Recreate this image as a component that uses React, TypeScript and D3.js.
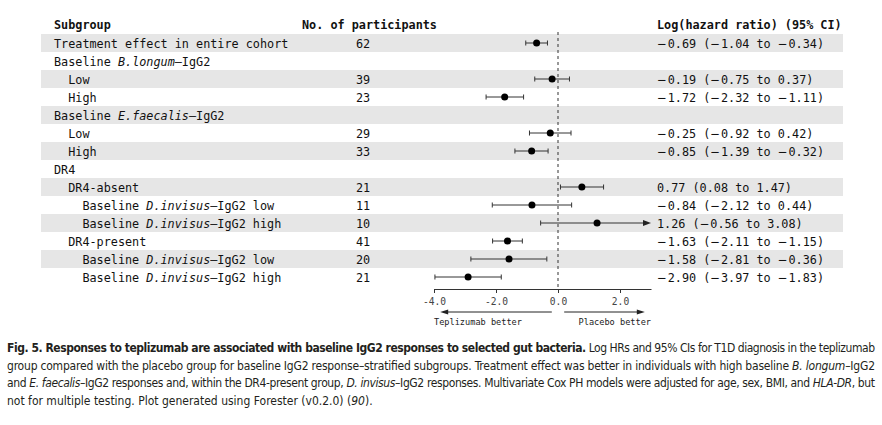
import { useRef, useEffect } from "react";
import * as d3 from "d3";

// subgroup labels; text between * is italic
const labels = [
  "Treatment effect in entire cohort",
  "Baseline *B.longum*–IgG2",
  "Low",
  "High",
  "Baseline *E.faecalis*–IgG2",
  "Low",
  "High",
  "DR4",
  "DR4-absent",
  "Baseline *D.invisus*–IgG2 low",
  "Baseline *D.invisus*–IgG2 high",
  "DR4-present",
  "Baseline *D.invisus*–IgG2 low",
  "Baseline *D.invisus*–IgG2 high",
];
const indent = [0, 0, 1, 1, 0, 1, 1, 0, 1, 2, 2, 1, 2, 2];
const participants = ["62", "", "39", "23", "", "29", "33", "", "21", "11", "10", "41", "20", "21"];
const estimate = [-0.69, null, -0.19, -1.72, null, -0.25, -0.85, null, 0.77, -0.84, 1.26, -1.63, -1.58, -2.9];
const lower = [-1.04, null, -0.75, -2.32, null, -0.92, -1.39, null, 0.08, -2.12, -0.56, -2.11, -2.81, -3.97];
const upper = [-0.34, null, 0.37, -1.11, null, 0.42, -0.32, null, 1.47, 0.44, 3.08, -1.15, -0.36, -1.83];
const xTicks = [-4, -2, 0, 2];
const xDomain = [-4, 3];

// caption lines: [text, style] pieces
const caption: [string, string][][] = [
  [
    ["Fig. 5. Responses to teplizumab are associated with baseline IgG2 responses to selected gut bacteria.", "b"],
    [" Log HRs and 95% CIs for T1D diagnosis in the teplizumab", ""],
  ],
  [
    ["group compared with the placebo group for baseline IgG2 response–stratified subgroups. Treatment effect was better in individuals with high baseline ", ""],
    ["B. longum", "i"],
    ["–IgG2", ""],
  ],
  [
    ["and ", ""],
    ["E. faecalis", "i"],
    ["–IgG2 responses and, within the DR4-present group, ", ""],
    ["D. invisus", "i"],
    ["–IgG2 responses. Multivariate Cox PH models were adjusted for age, sex, BMI, and ", ""],
    ["HLA-DR", "i"],
    [", but", ""],
  ],
  [
    ["not for multiple testing. Plot generated using Forester (v0.2.0) (", ""],
    ["90", "i"],
    [").", ""],
  ],
];

const MONO = "'DejaVu Sans Mono', monospace";
const CAP = "'Liberation Sans Narrow', 'DejaVu Sans Condensed', sans-serif";

const fmt = (v: number) => (v < 0 ? "−" : "") + Math.abs(v).toFixed(2);

// minus signs in the CI column come from a wider fallback glyph
const withMinus = (s: string) =>
  s.split("−").map((part, j) => (
    <tspan key={j}>
      {j > 0 && (
        <tspan fontFamily="'DejaVu Sans', sans-serif" letterSpacing={0.8}>
          −
        </tspan>
      )}
      {part}
    </tspan>
  ));

const App = () => {
  const axisRef = useRef(null);

  const x = d3.scaleLinear().domain(xDomain).range([434, 651]);
  const y = d3
    .scaleBand()
    .domain(labels.map((_, i) => String(i)))
    .range([34, 34 + labels.length * 18]);
  const axisY = 289;

  useEffect(() => {
    const g = d3.select(axisRef.current);
    g.selectAll("*").remove();
    g.call(
      d3
        .axisBottom(x)
        .tickValues(xTicks)
        .tickSize(4)
        .tickSizeOuter(0)
        // @ts-ignore
        .tickFormat((d) => d.toFixed(1))
    );
    g.select(".domain").attr("stroke", "#333");
    g.selectAll(".tick line").attr("stroke", "#333");
    g.selectAll(".tick text")
      .attr("font-family", MONO)
      .attr("font-size", 9.6)
      .attr("fill", "#444")
      .attr("dy", "0.9em");
  }, []);

  const x0 = x(0);
  const bw = y.bandwidth();

  return (
    <svg width={882} height={425} style={{ position: "absolute", left: 0, top: 0 }}>
      {/* row stripes */}
      {labels.map((_, i) =>
        i % 2 === 0 ? (
          <rect key={i} x={41} y={y(String(i))} width={802} height={bw} fill="#e6e6e6" />
        ) : null
      )}

      {/* headers */}
      <g fontFamily={MONO} fontSize={11.8} fontWeight="bold" fill="#111">
        <text x={54} y={29}>Subgroup</text>
        <text x={302} y={29}>No. of participants</text>
        <text x={657} y={29}>Log(hazard ratio) (95% CI)</text>
      </g>

      {/* table text */}
      <g fontFamily={MONO} fontSize={11.8} fill="#111">
        {labels.map((lab, i) => {
          const cy = y(String(i)) + bw / 2 + 4.5;
          return (
            <g key={i}>
              <text x={54 + indent[i] * 14.2} y={cy}>
                {lab.split("*").map((s, j) => (
                  <tspan key={j} fontStyle={j % 2 ? "italic" : "normal"}>{s}</tspan>
                ))}
              </text>
              <text x={363} y={cy} textAnchor="middle">{participants[i]}</text>
              {estimate[i] !== null && (
                <text x={657} y={cy}>
                  {withMinus(`${fmt(estimate[i])} (${fmt(lower[i])} to ${fmt(upper[i])})`)}
                </text>
              )}
            </g>
          );
        })}
      </g>

      {/* reference line */}
      <line x1={x0} x2={x0} y1={32} y2={axisY} stroke="#333" strokeWidth={1} strokeDasharray="3,3" />

      {/* estimates and CIs */}
      {estimate.map((e, i) => {
        if (e === null) return null;
        const cy = y(String(i)) + bw / 2;
        const lo = Math.max(lower[i], xDomain[0]);
        const hiClipped = upper[i] > xDomain[1];
        const hi = Math.min(upper[i], xDomain[1]);
        return (
          <g key={i} stroke="#333" strokeWidth={1}>
            <line x1={x(lo)} x2={hiClipped ? x(hi) - 6 : x(hi)} y1={cy} y2={cy} />
            <line x1={x(lo)} x2={x(lo)} y1={cy - 2.5} y2={cy + 2.5} />
            {hiClipped ? (
              <path
                d={`M${x(hi)},${cy}L${x(hi) - 8},${cy - 3}L${x(hi) - 8},${cy + 3}Z`}
                fill="#222"
                stroke="none"
              />
            ) : (
              <line x1={x(hi)} x2={x(hi)} y1={cy - 2.5} y2={cy + 2.5} />
            )}
            <circle cx={x(e)} cy={cy} r={3.5} fill="#000" stroke="none" />
          </g>
        );
      })}

      {/* x axis */}
      <g ref={axisRef} transform={`translate(0,${axisY})`} />

      {/* direction arrows */}
      <g stroke="#222" strokeWidth={1}>
        <line x1={x(-0.2)} x2={x(-3.8) + 6} y1={312} y2={312} />
        <path d={`M${x(-3.8)},312L${x(-3.8) + 8},309.5L${x(-3.8) + 8},314.5Z`} fill="#222" stroke="none" />
        <line x1={x(0.2)} x2={x(2.8) - 6} y1={312} y2={312} />
        <path d={`M${x(2.8)},312L${x(2.8) - 8},309.5L${x(2.8) - 8},314.5Z`} fill="#222" stroke="none" />
      </g>
      <g fontFamily={MONO} fontSize={8.6} fill="#222">
        <text x={x(-4)} y={324.5}>Teplizumab better</text>
        <text x={x(3)} y={324.5} textAnchor="end">Placebo better</text>
      </g>

      {/* caption */}
      <g fontFamily={CAP} fontSize={12} fill="#231f20">
        {caption.map((line, li) => (
          <text
            key={li}
            x={7}
            y={352 + li * 17.7}
            textLength={li < 3 ? 868 : undefined}
            lengthAdjust="spacing"
          >
            {line.map(([s, st], j) => (
              <tspan
                key={j}
                fontWeight={st === "b" ? "bold" : "normal"}
                fontStyle={st === "i" ? "italic" : "normal"}
              >
                {s}
              </tspan>
            ))}
          </text>
        ))}
      </g>
    </svg>
  );
};

export default App;
